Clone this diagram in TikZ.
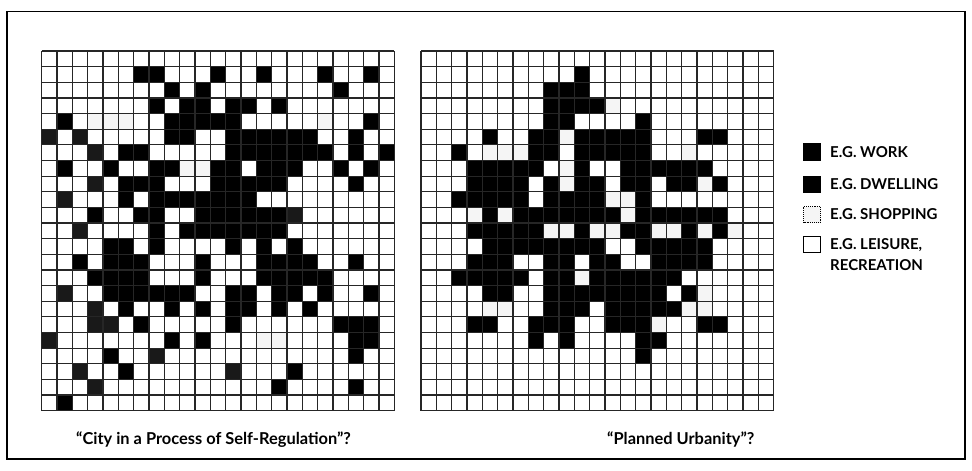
\documentclass[tikz,border=0pt]{standalone}
\usepackage{fontspec}
\setmainfont{Lato}
\newcommand\gcell[5]{\path[#5] ({#1+#3*15.33},{#2+#4*15.64}) rectangle ++(15.33,15.64);}
\begin{document}
\begin{tikzpicture}[x=1pt,y=-1pt,
  blk/.style={fill=black},
  spk/.style={fill=black!90},
  stp/.style={fill=black!4},
  gridline/.style={line width=1.2pt, draw=black!85},
  lbl/.style={font=\fontsize{15}{21}\selectfont\bfseries, anchor=west, inner sep=0pt, align=left},
  captext/.style={font=\fontsize{16.4}{20}\selectfont\bfseries, anchor=base west, inner sep=0pt}]
\useasboundingbox (0,0) rectangle (972,471);
\draw[line width=1.6pt] (7,11.5) rectangle (965,459);
% ---------- left grid ----------
\def\LX{41.7}\def\LY{51}
\foreach \r/\cs in {1/{6,7,11,14,18,21},2/{8,10,19},3/{7,9,10,12,13,15},
  4/{1,8,9,10,11,12,21},5/{0,2,8,9,12,13,14,15,16,17,20},
  6/{3,5,6,12,13,14,15,16,17,18,20,22},7/{1,4,7,8,11,12,14,15,16,19,21},
  8/{3,5,6,7,11,12,13,14,15,20},9/{1,5,7,8,9,10,11,12,13},
  10/{3,6,7,10,11,12,13,14,15,16},11/{2,7,9,10,11,12,13,14,15},
  12/{4,5,7,12,14,16},13/{2,4,5,6,10,14,15,16,17,20},
  14/{3,4,5,6,10,14,15,16,17,18},15/{1,4,5,6,7,8,9,12,13,15,16,18,21},
  16/{3,5,8,10,12,13,15,17},17/{3,4,6,12,19,20,21},18/{0,8,10,20,21},
  19/{4,7,20},20/{2,5,12,16},21/{3,15,20},22/{1}}
  {\foreach \c in \cs {\gcell{\LX}{\LY}{\c}{\r}{blk}}}
\foreach \c/\r in {0/5,2/5,3/6,3/8,1/9,16/10,2/11,1/15,3/16,3/17,4/17,0/18,7/19,2/20,12/20,3/21}
  {\gcell{\LX}{\LY}{\c}{\r}{spk}}
\foreach \c/\r in {3/4,4/4,5/4,18/4,9/7,10/7,14/18,15/18}
  {\gcell{\LX}{\LY}{\c}{\r}{stp}}
\foreach \i in {0,...,23} {
  \draw[gridline] ({\LX+\i*15.33},\LY) -- ({\LX+\i*15.33},{\LY+23*15.64});
  \draw[gridline] (\LX,{\LY+\i*15.64}) -- ({\LX+23*15.33},{\LY+\i*15.64});
}
% ---------- right grid ----------
\def\RX{421}\def\RY{51}
\foreach \r/\cs in {1/{10},2/{8,9,10},3/{8,9,10,11},4/{8,9,14},
  5/{4,7,8,10,11,12,13,14,18,19},6/{2,7,8,10,11,12,13,14},
  7/{3,4,5,6,7,10,13,14,15,16,17,18},8/{3,4,5,6,8,10,11,13,14,16,17,19},
  9/{2,3,4,5,6,8,9,10,11,14},10/{4,6,7,8,9,10,11,12,14,15,16,17,18,19},
  11/{3,4,5,6,7,10,13,14,17,19},12/{4,5,6,7,8,9,10,11,14,15,16,17,18},
  13/{3,4,5,8,9,11,12,15,16,17,18},14/{2,3,4,5,6,8,9,11,12,13,14,15,16},
  15/{4,5,8,9,10,11,12,13,14,15,17},16/{8,9,10,12,13,14,15,16},
  17/{3,4,7,8,9,12,13,14,18,19},18/{7,9,14,15},19/{14}}
  {\foreach \c in \cs {\gcell{\RX}{\RY}{\c}{\r}{blk}}}
\foreach \c/\r in {12/3,9/5,4/6,5/6,6/6,17/6,9/7,9/8,18/8,12/9,13/9,3/10,5/10,13/10,
  8/11,9/11,11/11,12/11,15/11,16/11,18/11,20/11,10/14,18/15,4/16,5/16,17/16,18/16,15/17}
  {\gcell{\RX}{\RY}{\c}{\r}{stp}}
\foreach \i in {0,...,23} {
  \draw[gridline] ({\RX+\i*15.33},\RY) -- ({\RX+\i*15.33},{\RY+23*15.64});
  \draw[gridline] (\RX,{\RY+\i*15.64}) -- ({\RX+23*15.33},{\RY+\i*15.64});
}
% ---------- legend ----------
\fill (803,143) rectangle (821,161);
\fill (803,176) rectangle (821,193);
\draw[line width=0.9pt, densely dotted, fill=black!4] (803.5,206.5) rectangle (820.5,222.5);
\draw[line width=0.8pt] (803.5,236.5) rectangle (820.5,252.5);
\node[lbl] (lwork) at (830,152) {E.G. WORK};
\node[lbl] (ldwell) at (830,184.5) {E.G. DWELLING};
\node[lbl] (lshop) at (830,214.5) {E.G. SHOPPING};
\node[lbl] (lleis) at (830,255) {E.G. LEISURE,\\RECREATION};
% ---------- captions ----------
\node[captext] (capl) at (76,444) {“City in a Process of Self-Regulation”?};
\node[captext] (capr) at (607,444) {“Planned Urbanity”?};
\end{tikzpicture}
\end{document}
